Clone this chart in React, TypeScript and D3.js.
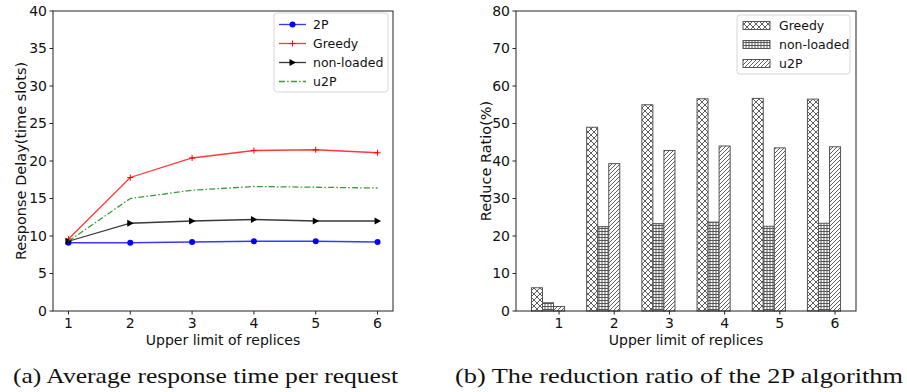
import React from 'react';
import * as d3 from 'd3';

// Left panel: average response time per request
const replicaLimits = [1, 2, 3, 4, 5, 6];
const delay2P = [9.1, 9.1, 9.2, 9.3, 9.3, 9.2];
const delayGreedy = [9.6, 17.8, 20.4, 21.4, 21.5, 21.1];
const delayNonLoaded = [9.3, 11.7, 12.0, 12.2, 12.0, 12.0];
const delayU2P = [9.3, 15.0, 16.1, 16.6, 16.5, 16.4];
const delayTicks = [0, 5, 10, 15, 20, 25, 30, 35, 40];

// Right panel: reduction ratio of 2P vs others
const ratioGreedy = [6.2, 49.0, 55.0, 56.6, 56.7, 56.5];
const ratioNonLoaded = [2.2, 22.5, 23.3, 23.7, 22.6, 23.4];
const ratioU2P = [1.2, 39.3, 42.8, 44.0, 43.5, 43.8];
const ratioTicks = [0, 10, 20, 30, 40, 50, 60, 70, 80];

const font = 'DejaVu Sans, sans-serif';
const axisColor = '#222';

const lineSeries = [
  { name: '2P', values: delay2P, color: '#0000ff', dash: undefined as string | undefined, marker: 'circle' },
  { name: 'Greedy', values: delayGreedy, color: '#ff0000', dash: undefined, marker: 'plus' },
  { name: 'non-loaded', values: delayNonLoaded, color: '#000000', dash: undefined, marker: 'tri' },
  { name: 'u2P', values: delayU2P, color: '#008000', dash: '6,2.2,1.5,2.2', marker: 'none' },
];

const barSeries = [
  { name: 'Greedy', values: ratioGreedy, pattern: 'hatch-x', offset: -0.4 },
  { name: 'non-loaded', values: ratioNonLoaded, pattern: 'hatch-grid', offset: -0.2 },
  { name: 'u2P', values: ratioU2P, pattern: 'hatch-slash', offset: 0 },
];

function Marker({ kind, x, y, color }: { kind: string; x: number; y: number; color: string }) {
  if (kind === 'circle') return <circle cx={x} cy={y} r={3} fill={color} />;
  if (kind === 'plus')
    return (
      <path d={`M${x - 3},${y}H${x + 3}M${x},${y - 3}V${y + 3}`} stroke={color} strokeWidth={1} />
    );
  if (kind === 'tri')
    return <path d={`M${x - 3},${y - 3.5}L${x + 3.5},${y}L${x - 3},${y + 3.5}Z`} fill={color} />;
  return null;
}

function LinePanel() {
  const left = 53, right = 393, top = 11, bottom = 311;
  const x = d3.scaleLinear().domain([0.75, 6.25]).range([left, right]);
  const y = d3.scaleLinear().domain([0, 40]).range([bottom, top]);
  const line = d3.line<number>()
    .x((_, i) => x(replicaLimits[i]))
    .y(d => y(d));

  return (
    <g fontFamily={font}>
      {lineSeries.map(s => (
        <g key={s.name}>
          <path d={line(s.values) || ''} fill="none" stroke={s.color} strokeWidth={1.3}
            strokeOpacity={0.78} strokeDasharray={s.dash} />
          {s.values.map((v, i) => (
            <Marker key={i} kind={s.marker} x={x(replicaLimits[i])} y={y(v)} color={s.color} />
          ))}
        </g>
      ))}
      <rect x={left} y={top} width={right - left} height={bottom - top} fill="none" stroke={axisColor} strokeWidth={1} />
      {delayTicks.map(t => (
        <g key={t}>
          <line x1={left - 3.5} x2={left} y1={y(t)} y2={y(t)} stroke={axisColor} />
          <text x={left - 6} y={y(t)} dy="0.35em" textAnchor="end" fontSize={14} fill="#111">{t}</text>
        </g>
      ))}
      {replicaLimits.map(t => (
        <g key={t}>
          <line x1={x(t)} x2={x(t)} y1={bottom} y2={bottom + 3.5} stroke={axisColor} />
          <text x={x(t)} y={bottom + 17} textAnchor="middle" fontSize={14} fill="#111">{t}</text>
        </g>
      ))}
      <text x={(left + right) / 2} y={345} textAnchor="middle" fontSize={14} fill="#111">Upper limit of replices</text>
      <text transform={`translate(26,${(top + bottom) / 2}) rotate(-90)`} textAnchor="middle" fontSize={14.5} fill="#111">
        Response Delay(time slots)
      </text>
      {/* legend */}
      <rect x={274} y={13} width={114} height={79} rx={3} fill="#fff" fillOpacity={0.8} stroke="#d6d6d6" />
      {lineSeries.map((s, i) => {
        const ly = 24.5 + i * 19;
        return (
          <g key={s.name}>
            <line x1={279} x2={306} y1={ly} y2={ly} stroke={s.color} strokeWidth={1.3} strokeOpacity={0.78} strokeDasharray={s.dash} />
            <Marker kind={s.marker} x={292.5} y={ly} color={s.color} />
            <text x={313} y={ly} dy="0.35em" fontSize={12.5} fill="#111">{s.name}</text>
          </g>
        );
      })}
    </g>
  );
}

function BarPanel() {
  const left = 516, right = 856, top = 11, bottom = 311;
  const x = d3.scaleLinear().domain([0.22, 6.38]).range([left, right]);
  const y = d3.scaleLinear().domain([0, 80]).range([bottom, top]);
  const barW = x(0.2) - x(0);

  return (
    <g fontFamily={font}>
      {barSeries.map(s => (
        <g key={s.name}>
          {s.values.map((v, i) => (
            <rect key={i} x={x(replicaLimits[i] + s.offset) - barW / 2} y={y(v)} width={barW}
              height={y(0) - y(v)} fill={`url(#${s.pattern})`} stroke="#555" strokeWidth={1} />
          ))}
        </g>
      ))}
      <rect x={left} y={top} width={right - left} height={bottom - top} fill="none" stroke={axisColor} strokeWidth={1} />
      {ratioTicks.map(t => (
        <g key={t}>
          <line x1={left - 3.5} x2={left} y1={y(t)} y2={y(t)} stroke={axisColor} />
          <text x={left - 6} y={y(t)} dy="0.35em" textAnchor="end" fontSize={14} fill="#111">{t}</text>
        </g>
      ))}
      {replicaLimits.map(t => (
        <g key={t}>
          <line x1={x(t)} x2={x(t)} y1={bottom} y2={bottom + 3.5} stroke={axisColor} />
          <text x={x(t)} y={bottom + 17} textAnchor="middle" fontSize={14} fill="#111">{t}</text>
        </g>
      ))}
      <text x={(left + right) / 2} y={345} textAnchor="middle" fontSize={14} fill="#111">Upper limit of replices</text>
      <text transform={`translate(491,${(top + bottom) / 2}) rotate(-90)`} textAnchor="middle" fontSize={14.5} fill="#111">
        Reduce Ratio(%)
      </text>
      {/* legend */}
      <rect x={737} y={15} width={113} height={59} rx={3} fill="#fff" fillOpacity={0.8} stroke="#d6d6d6" />
      {barSeries.map((s, i) => {
        const ly = 25.5 + i * 19;
        return (
          <g key={s.name}>
            <rect x={743} y={ly - 4} width={27} height={8} fill={`url(#${s.pattern})`} stroke="#555" strokeWidth={1} />
            <text x={779} y={ly} dy="0.35em" fontSize={12.5} fill="#111">{s.name}</text>
          </g>
        );
      })}
    </g>
  );
}

export default function App() {
  return (
    <svg width={907} height={392} style={{ position: 'absolute', left: 0, top: 0, background: '#fff' }}>
      <defs>
        <pattern id="hatch-x" width={6} height={6} patternUnits="userSpaceOnUse">
          <rect width={6} height={6} fill="#fff" />
          <path d="M0,0L6,6M6,0L0,6M-1,5L1,7M5,-1L7,1M-1,1L1,-1M5,7L7,5" stroke="#333" strokeWidth={0.8} />
        </pattern>
        <pattern id="hatch-grid" width={3} height={3} patternUnits="userSpaceOnUse">
          <rect width={3} height={3} fill="#fff" />
          <path d="M0,0.5H3" stroke="#444" strokeWidth={0.9} />
          <circle cx={2} cy={2} r={0.8} fill="#444" />
        </pattern>
        <pattern id="hatch-slash" width={4} height={4} patternUnits="userSpaceOnUse">
          <rect width={4} height={4} fill="#fff" />
          <path d="M-1,1L1,-1M0,4L4,0M3,5L5,3" stroke="#333" strokeWidth={0.8} />
        </pattern>
      </defs>
      <rect width={907} height={392} fill="#fff" />
      <LinePanel />
      <BarPanel />
      <text x={13} y={383} fontFamily="Liberation Serif, serif" fontSize={21} fill="#111"
        textLength={385} lengthAdjust="spacingAndGlyphs">(a) Average response time per request</text>
      <text x={455} y={383} fontFamily="Liberation Serif, serif" fontSize={21} fill="#111"
        textLength={448} lengthAdjust="spacingAndGlyphs">(b) The reduction ratio of the 2P algorithm</text>
    </svg>
  );
}
